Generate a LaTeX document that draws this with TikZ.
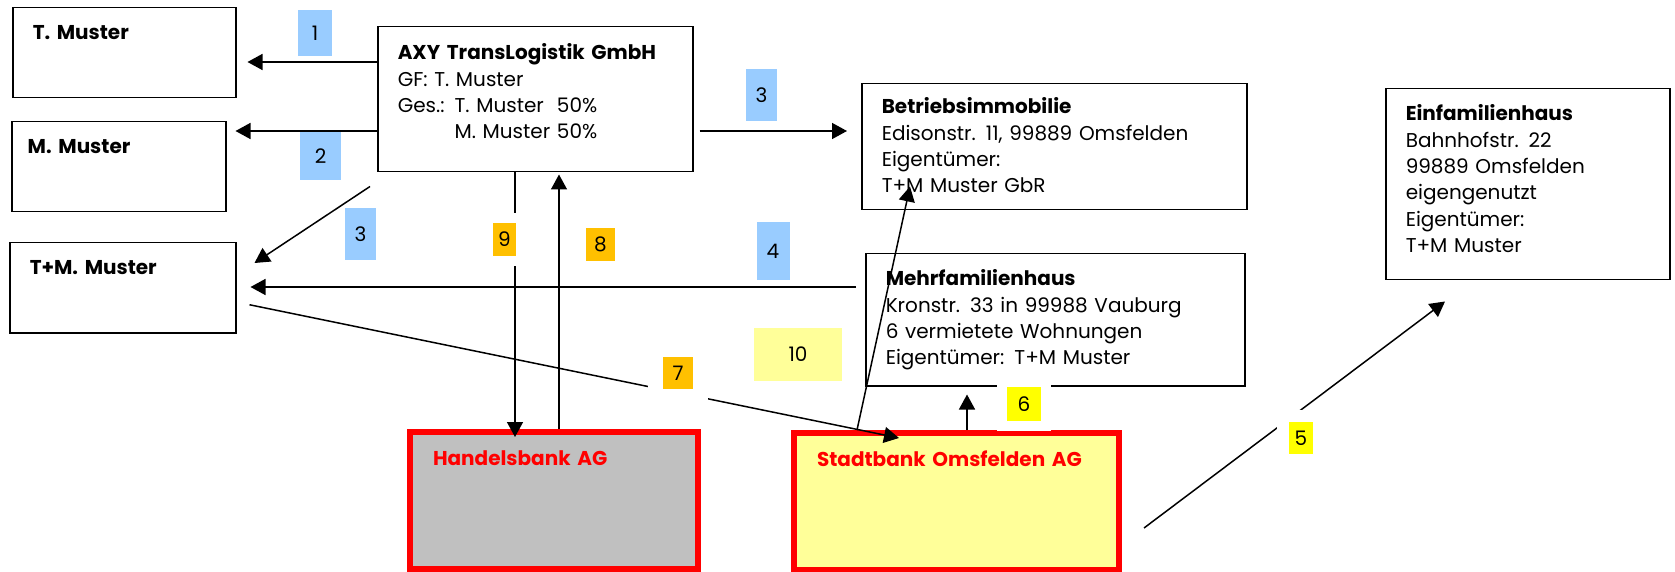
\documentclass[tikz,border=0pt]{standalone}
\usepackage{fontspec}
\setmainfont{Poppins}
\usetikzlibrary{arrows.meta}
\definecolor{tagblue}{HTML}{99CCFF}
\definecolor{tagorange}{HTML}{FFC000}
\definecolor{tagyellow}{HTML}{FFFF00}
\definecolor{paleyellow}{HTML}{FFFF99}
\definecolor{bankgray}{HTML}{C0C0C0}
\newcommand{\boxfont}{\fontsize{10}{13.2}\selectfont}

\tikzset{
	box/.style={draw, line width=0.75pt, anchor=north west, align=left, inner xsep=10pt, inner ysep=0pt, font=\boxfont},
	person/.style={box, font=\boxfont\bfseries, text height=16pt, text depth=29pt},
	bank/.style={box, draw=red, line width=3pt, text=red, inner xsep=11.5pt, font=\boxfont\bfseries, text height=16.5pt, text depth=52pt},
	tag/.style={fill=#1, inner sep=0pt, font=\boxfont},
	halo/.style={preaction={draw=white, line width=#1}},
	flow/.style={-{Triangle[length=7.5pt,width=8pt]}, line width=0.75pt},
}

\begin{document}
\begin{tikzpicture}[x=0.5pt, y=-0.5pt]
			\useasboundingbox (0,0) rectangle (1675,572);
			% people and company
			\node[person, text width=91.5pt] (tmuster) at (12,7) {T. Muster};
			\node[person, text width=91pt, inner xsep=8pt] (mmuster) at (11,121) {M. Muster};
			\node[person, text width=93pt] (tmmuster) at (9,242) {T+M. Muster};
			\node[box, text width=137.5pt, text height=16.5pt, text depth=56pt] (axy) at (377,26)
				{\textbf{AXY TransLogistik GmbH}\\GF: T. Muster\\Ges.: \rlap{T. Muster}\phantom{M. Muster} 50\%\\\phantom{Ges.: }M. Muster 50\%};
			% property
			\node[box, text width=172.5pt, text height=15pt, text depth=48pt] (betrieb) at (861,83)
				{\textbf{Betriebsimmobilie}\\Edisonstr. 11, 99889 Omsfelden\\Eigentümer:\\T+M Muster GbR};
			\node[box, text width=169.5pt, text height=16pt, text depth=50pt] (mehrfam) at (865,253)
				{\textbf{Mehrfamilienhaus}\\Kronstr. 33 in 99988 Vauburg\\6 vermietete Wohnungen\\Eigentümer: T+M Muster};
			\node[box, text width=122pt, text height=16pt, text depth=79.5pt] (einfam) at (1385,88)
				{\textbf{Einfamilienhaus}\\Bahnhofstr. 22\\99889 Omsfelden\\eigengenutzt\\Eigentümer:\\T+M Muster};
			% banks
			\node[bank, fill=bankgray, text width=121pt] (hbank) at (407,429) {Handelsbank AG};
			\node[bank, fill=paleyellow, text width=139.5pt] (stadt) at (791,430) {Stadtbank Omsfelden AG};

			\draw[flow, shorten >=5.5pt] (axy.west |- 0,62) -- (tmuster.east |- 0,62);
			\draw[flow, shorten >=4.5pt] (axy.west |- 0,131) -- (mmuster.east |- 0,131);
			\draw[flow, shorten <=3pt, shorten >=7pt] (axy.east |- 0,131) -- (betrieb.west |- 0,131);
			\draw[flow] ([shift={(-7,14)}]axy.south west) -- ([shift={(18,21)}]tmmuster.north east);
			\draw[flow, shorten <=4.5pt, shorten >=7pt] (mehrfam.west |- 0,287) -- (tmmuster.east |- 0,287);
			\draw[flow] ([shift={(22,-45)}]stadt.south east) -- ([shift={(60,21)}]einfam.south west);
			\draw[flow, shorten >=4pt] (stadt.north -| 967,0) -- (mehrfam.south -| 967,0);
			\draw[flow] ([shift={(13,17)}]tmmuster.east) -- ([shift={(108,8)}]stadt.north west);
			\draw[flow, shorten >=1pt] (hbank.north -| 559,0) -- (axy.south -| 559,0);
			\draw[flow, shorten >=-4pt] (axy.south -| 515,0) -- (hbank.north -| 515,0);
			\draw[flow] ([shift={(66,0)}]stadt.north west) -- ([shift={(49,-24)}]betrieb.south west);

			% numbers
			\node[tag=tagblue, minimum width=17pt, minimum height=23pt] (t1) at (315,33) {1};
			\node[tag=tagblue, minimum width=20.5pt, minimum height=24pt] (t2) at (320.5,156) {2};
			\node[tag=tagblue, minimum width=15.5pt, minimum height=26pt] (t3a) at (761.5,95) {3};
			\node[tag=tagblue, minimum width=15.5pt, minimum height=26pt] (t3b) at (360.5,234) {3};
			\node[tag=tagblue, minimum width=16.5pt, minimum height=29pt] (t4) at (773,251) {4};
			\node[tag=tagyellow, halo=12pt, minimum width=12pt, minimum height=16pt] (t5) at (1301,438) {5};
			\node[tag=tagyellow, halo=10pt, minimum width=17pt, minimum height=17pt] (t6) at (1024,404) {6};
			\node[tag=tagorange, halo=15pt, minimum width=15pt, minimum height=16pt] (t7) at (678,373) {7};
			\node[tag=tagorange, minimum width=14.5pt, minimum height=16.5pt] (t8) at (600.5,244.5) {8};
			\node[tag=tagorange, halo=10pt, minimum width=11.5pt, minimum height=16.5pt] (t9) at (504.5,239.5) {9};
			\node[tag=paleyellow, minimum width=44pt, minimum height=26.5pt] (t10) at (798,354.5) {10\hspace{12pt}};
		\end{tikzpicture}
\end{document}
